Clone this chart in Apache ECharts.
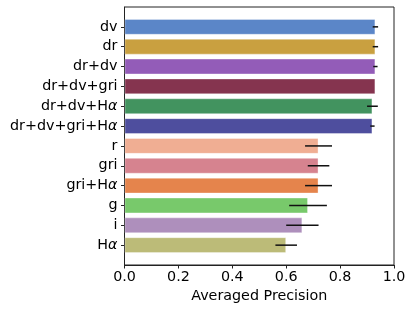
<!DOCTYPE html>
<html><head><meta charset="utf-8">
<script src="https://cdn.jsdelivr.net/npm/echarts@6/dist/echarts.min.js"></script>
<style>html,body{margin:0;padding:0;background:#fff}#c{width:415px;height:311px}</style>
</head><body><div id="c"></div>
<script>
const categories = ['dv','dr','dr+dv','dr+dv+gri','dr+dv+Hα','dr+dv+gri+Hα','r','gri','gri+Hα','g','i','Hα'];
const precision = [0.931, 0.931, 0.931, 0.931, 0.920, 0.920, 0.720, 0.720, 0.720, 0.681, 0.660, 0.600];
const errors = [0.010, 0.010, 0.008, 0.0, 0.020, 0.008, 0.050, 0.040, 0.050, 0.070, 0.060, 0.040];
const colors = ['#5b86c8','#c9a040','#935cb8','#85344f','#42935f','#4e4e9e','#f0ae93','#d6838f','#e5844c','#78c96b','#ae8fbc','#bcbb78'];
const xTicks = [0.0, 0.2, 0.4, 0.6, 0.8, 1.0];

const yCats = [' ', ...categories, '  '];
const barData = [null, ...categories.map((c,i)=>({value: precision[i], itemStyle:{color: colors[i]}})), null];
const errData = categories.map((c,i)=>[precision[i]-errors[i], precision[i]+errors[i], i+1]);
const font = 'DejaVu Sans';
const fs = 14.3;

function fmtLabel(v){
  if (v.indexOf('α') >= 0) {
    return v.replace('α','') + '{it|α}';
  }
  return v;
}

const chart = echarts.init(document.getElementById('c'));
chart.setOption({
  animation: false,
  grid: {left: 124.5, right: 21, top: 3, bottom: 46, show: true, borderColor: '#222', borderWidth: 1, containLabel: false},
  xAxis: {
    type: 'value', min: 0, max: 1, interval: 0.2,
    splitLine: {show: false},
    axisLine: {show: true, lineStyle: {color: '#222', width: 1}},
    axisTick: {show: true, length: 3.5, lineStyle: {color: '#222'}},
    axisLabel: {color: '#000', fontFamily: font, fontSize: fs, margin: 5, formatter: v => v.toFixed(1)},
    name: 'Averaged Precision', nameLocation: 'middle', nameGap: 21,
    nameTextStyle: {color: '#000', fontFamily: font, fontSize: fs}
  },
  yAxis: {
    type: 'category', data: yCats, inverse: true, boundaryGap: false,
    axisLine: {show: true, lineStyle: {color: '#222', width: 1}},
    axisTick: {show: true, length: 3.5, lineStyle: {color: '#222'}, interval: (i) => i > 0 && i < yCats.length - 1},
    axisLabel: {interval: 0, color: '#000', fontFamily: font, fontSize: fs, margin: 7,
      formatter: fmtLabel,
      rich: {it: {fontStyle: 'italic', fontFamily: font, fontSize: fs, color: '#000'}}}
  },
  series: [
    {type: 'bar', data: barData, barWidth: '80%',
     itemStyle: {borderColor: 'rgba(255,255,255,0.35)', borderWidth: 1}, z: 2},
    {type: 'custom', data: errData, encode: {x: [0,1], y: 2}, z: 5,
     renderItem: (params, api) => {
       const p1 = api.coord([api.value(0), api.value(2)]);
       const p2 = api.coord([api.value(1), api.value(2)]);
       return {type: 'line', shape: {x1: p1[0], y1: p1[1], x2: p2[0], y2: p2[1]},
               style: {stroke: '#111', lineWidth: 1.5}};
     }}
  ]
});
</script></body></html>
